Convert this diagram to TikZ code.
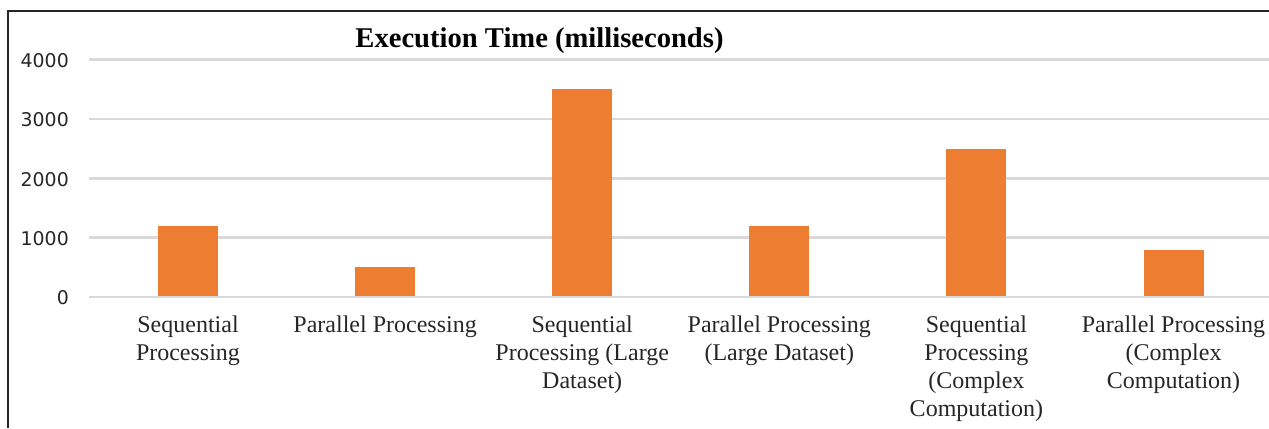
\documentclass[tikz,border=0pt]{standalone}
\usepackage{fontspec}
\setmainfont{Liberation Serif}
\newfontfamily\tickfont{DejaVu Sans}
\definecolor{barorange}{HTML}{ED7D31}
\definecolor{gridgray}{HTML}{D9D9D9}
\definecolor{txtdark}{HTML}{262626}
\begin{document}
\begin{tikzpicture}[x=1bp,y=-1bp,
  gridline/.style={draw=gridgray,line width=2.5bp},
  barbox/.style={fill=barorange},
  frameline/.style={draw=black!85,line width=1.5bp},
  catlabel/.style={anchor=north,align=center,inner sep=0pt,text=txtdark,
    font=\fontsize{24bp}{27.8bp}\selectfont},
  ticklabel/.style={anchor=east,inner sep=0pt,text=txtdark,
    font=\tickfont\fontsize{18.9bp}{22bp}\selectfont},
  titlelabel/.style={inner sep=0pt,text=black,
    font=\bfseries\fontsize{28.6bp}{32bp}\selectfont}]
\useasboundingbox (0,0) rectangle (1269,428);
% frame
\coordinate (fbl) at (8,428);
\coordinate (ftl) at (8,11);
\coordinate (ftr) at (1269,11);
\draw[frameline] (fbl) -- (ftl) -- (ftr);
% title
\node[titlelabel] (title) at (539.5,41) {Execution Time (milliseconds)};
% grid and ticks
\foreach \v [count=\k from 0] in {0,1000,2000,3000,4000}{
  \coordinate (gl\k) at (89,{297-\k*59.33});
  \coordinate (gr\k) at (1269,{297-\k*59.33});
  \draw[gridline] (gl\k) -- (gr\k);
  \node[ticklabel] (tick\k) at (69,{298-\k*59.33}) {\v};
}
% bars
\foreach \v [count=\i] in {1200,500,3500,1200,2500,800}{
  \fill[barbox] ({188+(\i-1)*197.1-30},296) rectangle ({188+(\i-1)*197.1+30},{297-\v*0.05933});
}
% category labels
\node[catlabel] (c1) at (188.0,316) {Sequential\\Processing};
\node[catlabel] (c2) at (385.1,316) {Parallel Processing};
\node[catlabel] (c3) at (582.2,316) {Sequential\\Processing (Large\\Dataset)};
\node[catlabel] (c4) at (779.3,316) {Parallel Processing\\(Large Dataset)};
\node[catlabel] (c5) at (976.4,316) {Sequential\\Processing\\(Complex\\Computation)};
\node[catlabel] (c6) at (1173.5,316) {Parallel Processing\\(Complex\\Computation)};
\end{tikzpicture}
\end{document}
